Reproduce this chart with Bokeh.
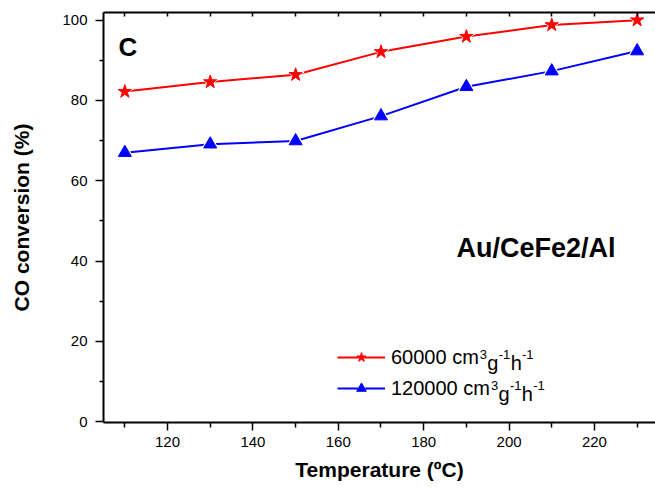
from bokeh.plotting import figure
from bokeh.models import (Range1d, FixedTicker, LinearAxis, Label, Legend, LegendItem)
from bokeh.embed import file_html
from bokeh.resources import INLINE

temps = [110, 130, 150, 170, 190, 210, 230]
conv_60000 = [82.2, 84.6, 86.4, 92.1, 95.9, 98.8, 100.0]
conv_120000 = [67.0, 69.1, 69.9, 76.1, 83.4, 87.3, 92.3]
series_names = ["60000 cm", "120000 cm"]
unit_parts = [("3", True), ("g", False), ("-1", True), ("h", False), ("-1", True)]
x_major = [120, 140, 160, 180, 200, 220]
x_minor = [110, 130, 150, 170, 190, 210, 230]
y_major = [0, 20, 40, 60, 80, 100]
y_minor = [10, 30, 50, 70, 90]

FONT = "Liberation Sans"
MAIN_PX = 20
SUP_PX = 13
# Arial / Liberation Sans advance widths (em)
ADV = {"0": 0.556, "1": 0.556, "2": 0.556, "3": 0.556, "6": 0.556, " ": 0.278,
       "c": 0.5, "m": 0.833, "g": 0.556, "h": 0.556, "-": 0.333}


def text_w(s, px):
    return sum(ADV[ch] for ch in s) * px


p = figure(width=655, height=495, output_backend="svg", toolbar_location=None,
           x_range=Range1d(105, 234.3), y_range=Range1d(-0.2, 101.9),
           min_border_left=103, min_border_right=0, min_border_top=12,
           min_border_bottom=73)
p.outline_line_color = None
p.grid.visible = False
p.background_fill_color = "white"
p.border_fill_color = "white"

xa = p.xaxis[0]
xa.ticker = FixedTicker(ticks=x_major, minor_ticks=x_minor)
xa.axis_label = "Temperature (\u00baC)"
ya = p.yaxis[0]
ya.ticker = FixedTicker(ticks=y_major, minor_ticks=y_minor)
ya.axis_label = "CO conversion (%)"

for ax in (xa, ya):
    ax.axis_line_width = 2
    ax.axis_line_color = "black"
    ax.major_tick_line_width = 1.5
    ax.minor_tick_line_width = 1.5
    ax.major_tick_line_color = "black"
    ax.minor_tick_line_color = "black"
    ax.major_tick_in = 0
    ax.minor_tick_in = 0
    ax.major_tick_out = 8
    ax.minor_tick_out = 5
    ax.major_label_text_font = FONT
    ax.major_label_text_font_size = "15px"
    ax.major_label_text_color = "black"
    ax.axis_label_text_font = FONT
    ax.axis_label_text_font_size = "21px"
    ax.axis_label_text_font_style = "bold"
    ax.axis_label_text_color = "black"
ya.minor_tick_out = 4
xa.major_label_standoff = 6
xa.axis_label_standoff = 8
ya.major_label_standoff = 8
ya.axis_label_standoff = 26

# top frame line with small inward ticks (minor ticks only, so no labels)
top = LinearAxis(ticker=FixedTicker(ticks=[], minor_ticks=sorted(x_minor + x_major)),
                 axis_line_width=2, axis_line_color="black",
                 major_tick_in=0, major_tick_out=0,
                 minor_tick_in=4, minor_tick_out=0, minor_tick_line_width=1.5,
                 minor_tick_line_color="black")
p.add_layout(top, "above")

l1 = p.line(temps, conv_60000, line_color="#ff0000", line_width=2)
h1 = p.scatter(temps, conv_60000, marker="star", size=18, fill_color="white", line_color="white")
m1 = p.scatter(temps, conv_60000, marker="star", size=14, fill_color="#ff0000", line_color="#ff0000")
l2 = p.line(temps, conv_120000, line_color="#0000ff", line_width=2)
h2 = p.scatter(temps, conv_120000, marker="triangle", size=17, fill_color="white", line_color="white")
m2 = p.scatter(temps, conv_120000, marker="triangle", size=13, fill_color="#0000ff", line_color="#0000ff")

LEG_X, LEG_Y = 234, 22
GLYPH_W, STANDOFF, ITEM_H, SPACING = 48, 6, 24, 7
legend = Legend(items=[LegendItem(label=series_names[0], renderers=[l1, h1, m1]),
                       LegendItem(label=series_names[1], renderers=[l2, h2, m2])],
                location=(LEG_X, LEG_Y), border_line_color=None, background_fill_alpha=0,
                padding=0, margin=0, spacing=SPACING, glyph_width=GLYPH_W, glyph_height=ITEM_H,
                label_height=ITEM_H, label_standoff=STANDOFF,
                label_text_font=FONT, label_text_font_size=f"{MAIN_PX}px",
                label_text_color="black")
p.add_layout(legend, "center")

# superscript unit parts appended after each legend label
for i, name in enumerate(series_names):
    center_from_bottom = LEG_Y + (1 - i) * (ITEM_H + SPACING) + ITEM_H / 2
    base_y = center_from_bottom - 0.25 * MAIN_PX
    x = LEG_X + GLYPH_W + STANDOFF + text_w(name, MAIN_PX) + 0.5
    for txt, sup in unit_parts:
        px = SUP_PX if sup else MAIN_PX
        y = base_y + (8 if sup else 0)
        p.add_layout(Label(x=x, y=y, x_units="screen", y_units="screen", text=txt,
                           text_font=FONT, text_font_size=f"{px}px",
                           text_baseline="alphabetic", text_color="black"))
        x += text_w(txt, px) + 0.3

p.add_layout(Label(x=15, y=376, x_units="screen", y_units="screen", text="C",
                   text_font=FONT, text_font_size="26px", text_font_style="bold",
                   text_baseline="alphabetic", text_color="black"))
p.add_layout(Label(x=353, y=175, x_units="screen", y_units="screen", text="Au/CeFe2/Al",
                   text_font=FONT, text_font_size="27px", text_font_style="bold",
                   text_baseline="alphabetic", text_color="black"))

open("out.html", "w").write(file_html(p, INLINE))
